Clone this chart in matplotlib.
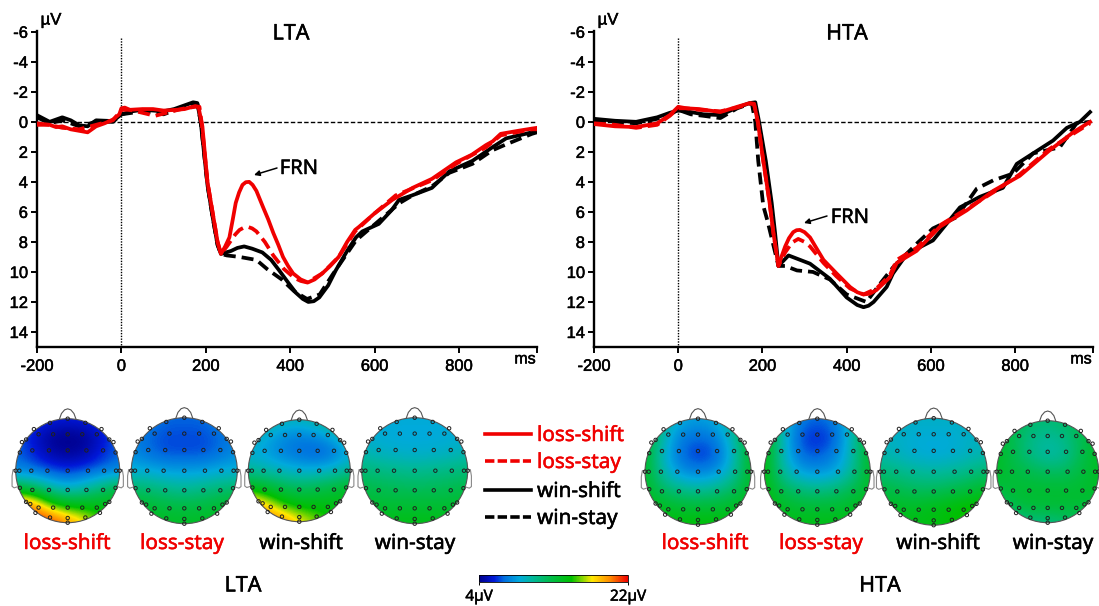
import numpy as np
import matplotlib
matplotlib.use('Agg')
import matplotlib.pyplot as plt
import matplotlib.patheffects as pe
from matplotlib.colors import LinearSegmentedColormap
from matplotlib.cm import ScalarMappable
from matplotlib.colors import Normalize
from matplotlib.patches import Circle, FancyArrowPatch
from matplotlib.text import Text

W, H = 1099, 606

xticks = [-200, 0, 200, 400, 600, 800]
yticks = [-6, -4, -2, 0, 2, 4, 6, 8, 10, 12, 14]
cond_names = ['loss-shift', 'loss-stay', 'win-shift', 'win-stay']

# LTA waveforms
lta_ls_t = [-200,-185,-170,-155,-140,-120,-100,-80,-60,-40,-20,-5,0,8,20,50,75,100,130,150,175,183,188,192,204,216,228,236,246,256,264,271,279,287,295,303,311,320,336,348,360,372,383,395,407,425,442,458,476,495,515,535,554,563,600,642,690,736,793,830,864,880,899,940,973,985]
lta_ls_v = [0.1,0.15,0.2,0.35,0.3,0.5,0.6,0.7,0.3,0.1,-0.15,-0.5,-0.9,-0.95,-0.8,-0.85,-0.85,-0.75,-0.8,-0.85,-1.05,-1.0,-0.2,0.3,4,6,8,8.8,8.3,7.7,6.5,5.4,4.7,4.2,4.02,4.0,4.2,4.6,5.7,6.5,7.4,8.2,9.0,9.6,10.1,10.5,10.7,10.5,10.1,9.6,9.0,8.0,7.2,7.0,6.1,5.2,4.4,3.8,2.7,2.2,1.55,1.3,0.8,0.6,0.45,0.4]
lta_lst_t = [-200,-170,-140,-100,-60,-20,0,20,50,80,120,150,175,185,190,204,216,228,236,250,260,270,280,290,300,310,320,340,360,385,410,425,440,476,515,554,600,650,736,793,864,899,973,985]
lta_lst_v = [0.2,0.2,0.4,0.5,0.2,-0.1,-0.8,-0.8,-0.6,-0.4,-0.7,-0.9,-1.0,-1.0,0,4,6,8,8.8,8.3,7.9,7.5,7.2,7.05,7.0,7.1,7.3,8.0,8.9,9.8,10.4,10.6,10.7,10.1,9.0,7.3,6.1,4.9,3.9,2.8,1.7,0.9,0.5,0.5]
lta_ws_t = [-200,-170,-140,-120,-100,-80,-60,-20,0,25,50,75,100,125,150,170,180,188,204,216,228,236,260,275,291,310,334,355,374,395,414,430,443,456,469,490,508,535,556,571,610,640,658,689,736,777,832,879,912,973,985]
lta_ws_v = [-0.44,0,-0.3,-0.1,0.23,0.3,-0.1,-0.05,-0.5,-0.7,-0.8,-0.75,-0.7,-0.85,-1.1,-1.3,-1.25,0,4.2,6.3,8.2,8.8,8.6,8.4,8.3,8.45,8.7,9.2,9.9,10.7,11.4,11.8,12.0,11.95,11.7,10.9,9.9,8.6,7.7,7.3,6.8,5.9,5.2,4.9,4.4,3.3,2.6,1.7,1.1,0.7,0.6]
lta_wst_t = [-200,-170,-140,-100,-60,-20,0,50,100,150,170,180,188,204,216,228,236,250,280,320,345,380,410,440,470,500,556,610,660,690,736,777,832,879,912,973,985]
lta_wst_v = [-0.3,0.1,-0.1,0.3,0,0,-0.5,-0.7,-0.5,-1.0,-1.2,-1.2,0,4.2,6.3,8.2,8.8,8.9,9.0,9.2,9.8,10.5,11.3,11.8,11.5,10.2,7.9,6.6,5.4,4.9,4.3,3.4,2.8,1.9,1.5,0.8,0.7]

# HTA waveforms
hta_ls_t = [-200,-150,-100,-50,-20,0,20,50,100,140,170,180,189,202,217,226,238,245,254,263,273,281,289,300,313,330,345,376,408,425,440,455,471,503,519,566,621,685,748,811,882,938,978]
hta_ls_v = [0.15,0.3,0.35,0.1,-0.45,-1.0,-0.9,-0.85,-0.65,-1.0,-1.25,-1.2,0,2.6,5.4,7.4,9.6,9.0,8.3,7.75,7.35,7.22,7.2,7.35,7.7,8.5,9.2,10.1,11.0,11.35,11.5,11.45,11.2,10.35,9.4,8.6,7.0,5.9,4.6,3.6,1.9,0.7,0]
hta_lst_t = [-200,-150,-100,-50,-20,0,20,50,100,140,170,180,189,202,217,226,238,254,270,285,300,313,345,376,408,440,471,503,519,566,621,685,748,811,882,938,978]
hta_lst_v = [0.1,0.2,0.4,0.2,-0.4,-0.9,-0.9,-0.8,-0.7,-0.95,-1.2,-1.2,0,2.6,5.4,7.4,9.6,8.7,8.05,7.8,8.0,8.3,9.4,10.3,11.1,11.5,11.1,10.2,9.2,8.4,6.9,5.8,4.7,3.5,1.8,0.8,0.1]
hta_ws_t = [-200,-150,-100,-50,-20,0,30,60,100,140,170,183,192,208,222,230,238,262,313,360,400,425,440,452,464,495,510,543,605,669,716,771,804,890,923,954,978]
hta_ws_v = [-0.2,-0.07,0,-0.3,-0.6,-0.75,-0.65,-0.5,-0.45,-0.95,-1.25,-1.3,0,2.6,5.4,7.4,9.6,8.9,9.45,10.45,11.7,12.2,12.35,12.25,12.0,11.0,10.1,8.8,7.9,5.7,5.0,4.4,2.8,1.25,0.4,0,-0.65]
hta_wst_t = [-200,-150,-100,-50,-20,0,30,60,100,140,170,175,183,190,202,212,238,254,282,320,360,400,447,479,510,567,605,661,709,748,795,843,906,946,978]
hta_wst_v = [-0.1,0,0.1,-0.2,-0.5,-0.8,-0.5,-0.4,-0.25,-0.9,-1.2,-1.2,0,2.6,5.6,6.6,9.6,9.6,9.9,10.0,10.5,11.5,12.0,10.8,9.7,8.1,7.1,6.35,4.45,3.9,3.45,2.1,1.7,0.1,0]

# scalp maps, 7 x 7 grid in microvolts, top row = front of the head
lta_ls_map = [[7.5,7,6.2,6,6.2,7,7.5],[7,5.5,4.2,4,4.2,5.5,7],[7,6,4.6,4.2,4.6,6,7],[7.5,7,6.5,6,6.5,7,7.5],[13,12,10,9,10,11.5,13],[21,20,16,14.5,14.5,14.5,14.5],[22,22,22,20,18,15.5,15]]
lta_lst_map = [[8,7.5,7,7,7,7.5,8],[7.5,7,6.5,6.5,6.5,7,7.5],[8,7,6.5,6.5,6.5,7,8],[9,9,8.5,8.5,8.5,9,9],[12,11.5,11,10.5,11,11.5,12],[14,13.5,13,13,13,13.5,14],[14.5,14.5,14,14,14,14.5,14.5]]
lta_ws_map = [[12,11,10,10,10.5,12,13],[10,9,8,7.5,8,9,11],[9,8.5,7.5,7,6.5,7,9],[10.5,10,9.5,9,9,9.5,10.5],[14,13.5,12.5,12,12.5,13,14],[20,18,15.5,14.5,14.5,14.5,14.5],[21,21,20,18,16.5,15,15]]
lta_wst_map = [[9,9,9,9,9,9,9],[9,9,8.8,8.8,8.8,9,9],[10,9.5,9.3,9.2,9.3,9.5,10],[11.5,11.2,11,10.8,11,11.2,11.5],[12.8,12.5,12.3,12.2,12.3,12.5,12.8],[13.8,13.5,13.5,13.5,13.5,13.5,13.8],[14.5,14.5,14.5,14.5,14.5,14.5,14.5]]
hta_ls_map = [[14,11,9,8.5,9,11,14],[14,10,7.5,7,7.5,10,14],[14,9.5,7,6,6.5,9.5,14],[14,10,8,7.5,8,10,14],[14,12,11,10.5,11,12,14],[14.5,14,13.5,13.5,13.5,14,14.5],[15,15,15,15,15,15,15]]
hta_lst_map = [[14,10,7.5,7,7.5,10,14],[15,10,6.5,5.8,6.5,10,14],[15,10,7,6.5,7.5,10,14],[15,10.5,8.5,8,8.5,10.5,14],[15,12.5,11.5,11,11.5,12.5,14],[15,14,13.5,13.5,13.5,14,14.5],[14.5,14.5,14.5,14.5,14.5,14.5,14.5]]
hta_ws_map = [[9.5,9.5,9.5,9.5,9.5,9.5,9.5],[9.5,9.5,9,9,9,9.5,9.5],[10,9.5,9,8.8,9,9.5,10],[11.5,11,10.5,10.3,10.5,11,11.5],[13,12.5,12,12,12.5,13,14],[14,14,14,14.5,15,15.5,15.5],[14,14.5,14.5,14.5,15,15.5,15.5]]
hta_wst_map = [[13,12.5,12,11.5,12,12.5,13],[13.5,12.5,11,10.5,11,12.5,13.5],[14,12.5,11,10,10.5,12.5,14],[14,13,12.5,12,12,13,14],[13,13.5,13.5,13.5,13.5,13.5,14],[11.5,13,13.5,13.5,13.5,13.5,13],[10,10.5,11,11,11.5,12,12.5]]

# electrodes, (dx, dy) on the right half in head radii, x=0 ones are not mirrored
elec_x = [0,.34,.65,0,.28,.56,.80,.88,0,.36,.68,.92,0,.39,.70,.93,1.0,0,.36,.68,.92,0,.28,.56,.80,.72,.62,.34,0,0]
elec_y = [-1,-.92,-.80,-.70,-.70,-.70,-.60,-.55,-.39,-.39,-.39,-.35,0,0,0,0,0,.37,.37,.37,.33,.71,.71,.71,.60,.64,.81,.90,.91,1]

# topographic colour scale, anchors are fractions of the range
topo_cmap = LinearSegmentedColormap.from_list('topo', [
    (0.00, '#00008c'), (0.10, '#0018d8'), (0.17, '#0070e0'), (0.27, '#00aadc'),
    (0.36, '#00b89a'), (0.47, '#00bc50'), (0.62, '#00c000'), (0.70, '#90d800'),
    (0.76, '#ffe800'), (0.88, '#ff8c00'), (1.00, '#f00000')])
norm = Normalize(4, 22)

plt.rcParams['font.family'] = ['Noto Sans', 'DejaVu Sans']
fig = plt.figure(figsize=(W / 100, H / 100), dpi=100, facecolor='white')


def pixel_axes(x0, y0, x1, y1):
    return fig.add_axes([x0 / W, 1 - y1 / H, (x1 - x0) / W, (y1 - y0) / H])


def put_text(x, y, s, size, color='black', **kw):
    fig.text(x / W, 1 - y / H, s, fontsize=size, color=color, ha='center', va='center', **kw)


def draw_erp(x0, x1, curves, title, title_x, frn_xy, arrow_from, arrow_to):
    ax = pixel_axes(x0, 31, x1, 347)
    ax.set_facecolor('none')
    ax.set_xlim(-200, 985)
    ax.set_ylim(15.0, -6.05)
    for side in ['top', 'right']:
        ax.spines[side].set_visible(False)
    for side in ['left', 'bottom']:
        ax.spines[side].set_linewidth(1.7)
    ax.set_xticks(xticks + [985])
    ax.set_xticklabels([str(v) for v in xticks] + [''], family='Liberation Sans', fontsize=11.9)
    ax.set_yticks(yticks)
    ax.set_yticklabels([str(v) for v in yticks], family='Liberation Sans', fontsize=11.9)
    ax.tick_params(axis='both', length=4.5, width=1.4, pad=2)
    ax.tick_params(axis='x', pad=4)
    ax.axhline(0, color='black', lw=1, ls=(0, (3.2, 1.6)), zorder=1)
    ax.plot([0, 0], [-5.6, 15], color='black', lw=1, ls=(0, (1, 1)), zorder=1)
    styles = [('black', 'solid'), ('black', (0, (3.2, 1.6))), ('#f00000', 'solid'), ('#f00000', (0, (3.2, 1.6)))]
    for (t, v), (c, ls) in zip(curves, styles):
        ax.plot(t, v, color=c, ls=ls, lw=2.7, solid_joinstyle='round', zorder=3)
    put_text(title_x, 34, title, 15.5)
    put_text(x0 + 14, 20, 'µV', 12, family='Liberation Sans')
    put_text(x1 - 12, 359, 'ms', 11.5, family='Liberation Sans')
    put_text(frn_xy[0], frn_xy[1], 'FRN', 14.5)
    fig.add_artist(FancyArrowPatch(
        (arrow_from[0] / W, 1 - arrow_from[1] / H), (arrow_to[0] / W, 1 - arrow_to[1] / H),
        transform=fig.transFigure, arrowstyle='-|>', mutation_scale=8, lw=1.1, color='black', shrinkA=0, shrinkB=0))


def draw_topo(cx, cy, r, values):
    pad = 1.25
    ax = pixel_axes(cx - pad * r, cy - pad * r, cx + pad * r, cy + pad * r)
    ax.axis('off')
    step = 1 / 6
    im = ax.imshow(values, cmap=topo_cmap, norm=norm, interpolation='bicubic',
                   extent=[-1 - step, 1 + step, 1 + step, -1 - step], zorder=1)
    im.set_clip_path(Circle((0, 0), 1, transform=ax.transData))
    ax.set_xlim(-pad, pad)
    ax.set_ylim(pad, -pad)
    ax.add_patch(Circle((0, 0), 1, fc='none', ec='#555555', lw=0.8, zorder=2))
    ax.plot([-.16, -.12, -.06, 0, .06, .12, .16], [-.99, -1.1, -1.17, -1.19, -1.17, -1.1, -.99], color='#555555', lw=0.8)
    for s in (-1, 1):
        ax.plot([s * .99, s * 1.05, s * 1.07, s * 1.07, s * 1.03, s * .97], [-.02, -.02, .1, .3, .33, .31], color='#888888', lw=0.8)
    xs = list(elec_x) + [-v for v, _ in zip(elec_x, elec_y) if v != 0]
    ys = list(elec_y) + [w for v, w in zip(elec_x, elec_y) if v != 0]
    ax.scatter(xs, ys, s=6, facecolors='none', edgecolors='#202020', linewidths=0.7, zorder=3)


draw_erp(37, 537, [(lta_ws_t, lta_ws_v), (lta_wst_t, lta_wst_v), (lta_ls_t, lta_ls_v), (lta_lst_t, lta_lst_v)],
         'LTA', 291, (299, 169), (277, 168), (254, 175))
draw_erp(594, 1093, [(hta_ws_t, hta_ws_v), (hta_wst_t, hta_wst_v), (hta_ls_t, hta_ls_v), (hta_lst_t, hta_lst_v)],
         'HTA', 847, (850, 218), (827, 216), (804, 223))

topo_left = [(67.7, 470.7, 52, lta_ls_map), (184.3, 470.7, 53, lta_lst_map), (299.3, 470.7, 51, lta_ws_map), (414.7, 470.7, 53, lta_wst_map)]
topo_right = [(698, 471.7, 53, hta_ls_map), (817.3, 471.7, 53, hta_lst_map), (933.7, 471.7, 53.5, hta_ws_map), (1047.7, 471.7, 51, hta_wst_map)]
for cx, cy, r, m in topo_left + topo_right:
    draw_topo(cx, cy, r, m)

# labels under the maps
label_colors = ['#f00000', '#f00000', 'black', 'black']
for x, s, c in zip([67, 182, 301, 415], cond_names, label_colors):
    put_text(x, 544, s, 14.9, c)
for x, s, c in zip([705, 821, 938, 1053], cond_names, label_colors):
    put_text(x, 544, s, 14.9, c)
put_text(243, 586, 'LTA', 15.5)
put_text(880, 586, 'HTA', 15.5)

# legend in the middle
leg = pixel_axes(0, 0, W, H)
leg.axis('off')
leg.patch.set_alpha(0)
leg.set_xlim(0, W)
leg.set_ylim(H, 0)
for y, s, c, ls in zip([434, 461, 490, 517], cond_names, label_colors,
                       ['solid', (0, (2.6, 0.9)), 'solid', (0, (2.6, 0.9))]):
    leg.plot([485, 531], [y, y], color=c, ls=ls, lw=2.6)
    leg.text(537, y + 2, s, fontsize=14.9, color=c, ha='left', va='center')

# colour bar
cax = pixel_axes(479, 575, 628, 582)
cb = fig.colorbar(ScalarMappable(norm=norm, cmap=topo_cmap), cax=cax, orientation='horizontal')
cb.set_ticks([4, 22])
cb.set_ticklabels(['4µV', '22µV'], fontsize=11)
cb.outline.set_linewidth(0.6)
cax.tick_params(length=2, width=0.7, pad=3.5)

# the source text looks slightly heavier than the plain fonts
for t in fig.findobj(Text):
    t.set_path_effects([pe.withStroke(linewidth=0.35, foreground=t.get_color())])

fig.savefig('out.png', dpi=100)
